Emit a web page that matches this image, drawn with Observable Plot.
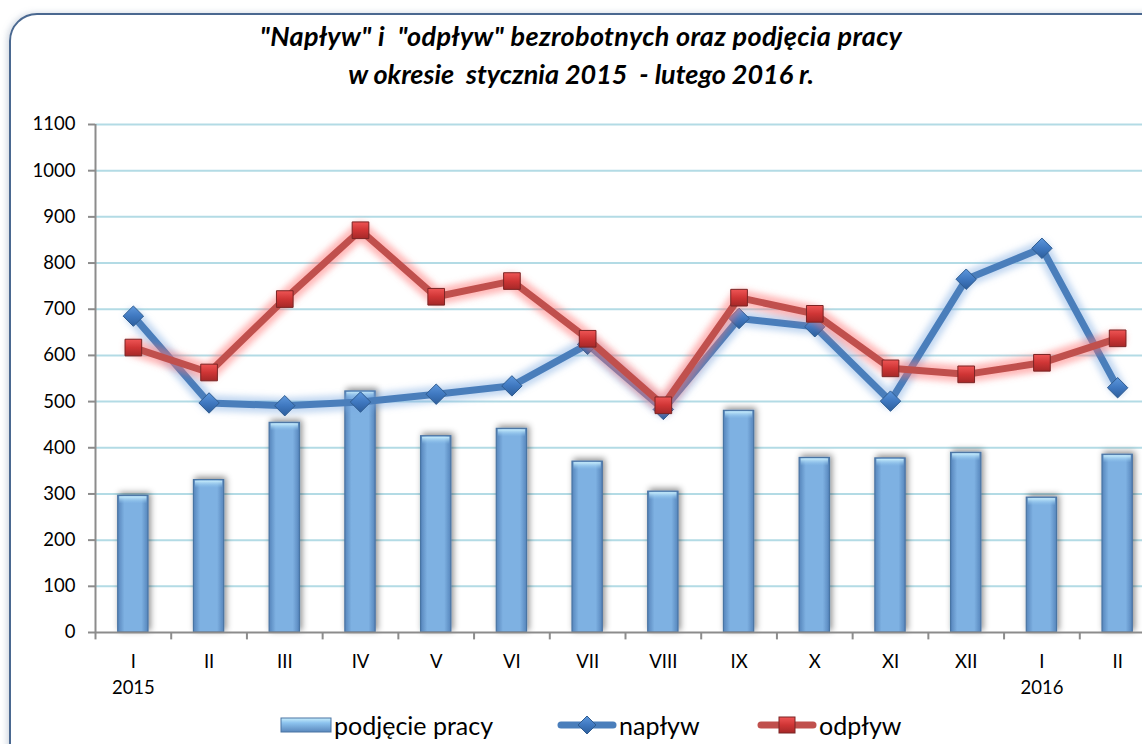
<!DOCTYPE html>
<html>
<head>
<meta charset="utf-8">
<script src="https://cdn.jsdelivr.net/npm/d3@7"></script>
<script src="https://cdn.jsdelivr.net/npm/@observablehq/plot@0.6"></script>
<style>
  html, body { margin: 0; padding: 0; background: #fff; overflow: hidden; }
  #page { position: relative; width: 1142px; height: 744px; overflow: hidden; font-family: Lato, "Open Sans", sans-serif; }
  #frame { position: absolute; left: 9px; top: 13px; width: 1240px; height: 760px; border: 2px solid #4a6890; border-radius: 28px; box-shadow: -2px 0 6px rgba(120,140,170,0.35); }
  #title { position: absolute; left: 0; width: 1162px; top: 17px; text-align: center; font-weight: bold; font-style: italic; font-size: 27px; line-height: 38px; color: #000; }
  #title .l1 { letter-spacing: 0.35px; }
  #chart { position: absolute; left: 0; top: 100px; }
  #legend { position: absolute; top: 707px; left: 0; width: 1142px; height: 36px; font-size: 25px; color: #000; }
  .li { position: absolute; top: 0; display: flex; align-items: center; height: 36px; }
  .li svg { display: block; }
</style>
</head>
<body>
<div id="page">
  <div id="frame"></div>
  <div id="title"><span class="l1">"Napływ" i &nbsp;"odpływ" bezrobotnych oraz podjęcia pracy</span><br>w okresie &nbsp;stycznia 2015 &nbsp;- lutego 2016 r.</div>
  <div id="chart"></div>
  <div id="legend"></div>
</div>
<script>
// ---- data ----
const months = ["I","II","III","IV","V","VI","VII","VIII","IX","X","XI","XII","I","II"];
const yearLabels = ["2015","","","","","","","","","","","","2016",""];
const podjeciePracy = [296, 330, 454, 522, 425, 441, 370, 305, 480, 378, 377, 389, 292, 385];
const naplyw = [685, 497, 491, 499, 516, 534, 624, 483, 680, 662, 501, 765, 832, 530];
const odplyw = [617, 563, 722, 871, 727, 761, 636, 492, 725, 690, 572, 559, 584, 637];
const yTicks = [0,100,200,300,400,500,600,700,800,900,1000,1100];
const seriesNames = ["podjęcie pracy", "napływ", "odpływ"];

const rows = months.map((m, i) => ({i, month: m, year: yearLabels[i], bar: podjeciePracy[i], nap: naplyw[i], odp: odplyw[i]}));
const idx = rows.map(d => d.i);

const W = 1142, H = 600;
const xRange = [95, 1155];
const step = (xRange[1] - xRange[0]) / months.length;

const blue = "#4a7ebb", red = "#c0504d";

const plot = Plot.plot({
  width: W, height: H,
  marginTop: 24, marginBottom: 68, marginLeft: 95, marginRight: 0,
  style: {fontFamily: "Lato, 'Open Sans', sans-serif", background: "transparent", overflow: "hidden"},
  x: {type: "band", domain: idx, range: xRange, paddingInner: 0.6, paddingOuter: 0.3, round: false, axis: null},
  y: {type: "linear", domain: [0, 1100], axis: null},
  marks: [
    Plot.ruleY(yTicks.filter(t => t > 0), {y: d => d, stroke: "#b3dbe5", strokeWidth: 2}),
    // y axis
    Plot.ruleX([idx[0]], {x: d => d, dx: -step * 0.5, y1: 0, y2: 1100, stroke: "#8c8c8c", strokeWidth: 2}),
    Plot.axisY(yTicks, {tickSize: 7, tickPadding: 13, fontSize: 18.5, stroke: "#8c8c8c", strokeWidth: 2, fill: "#000", tickFormat: d => String(d)}),
    // bars
    Plot.barY(rows, {x: "i", y: "bar", fill: "url(#barGrad)", stroke: "#4a74a3", strokeWidth: 1.2}),
    Plot.barY(rows, {x: "i", y1: d => d.bar - 18, y2: "bar", fill: "url(#barTop)", insetLeft: 1.5, insetRight: 1.5, insetTop: 1}),
    // x axis
    Plot.ruleY([0], {stroke: "#8c8c8c", strokeWidth: 2}),
    Plot.ruleX(rows, {x: "i", dx: -step / 2, y1: 0, y2: -16, stroke: "#8c8c8c", strokeWidth: 2}),
    // napływ
    Plot.line(rows, {x: "i", y: "nap", stroke: "#7aa8e0", strokeWidth: 16, strokeOpacity: 0.45}),
    Plot.line(rows, {x: "i", y: "nap", stroke: blue, strokeWidth: 7, strokeLinejoin: "round"}),
    Plot.dot(rows, {x: "i", y: "nap", symbol: "diamond2", r: 9.2, fill: "url(#diaGrad)", stroke: "#2f5c90", strokeWidth: 1}),
    // odpływ
    Plot.line(rows, {x: "i", y: "odp", stroke: "#ff7070", strokeWidth: 17, strokeOpacity: 0.5}),
    Plot.line(rows, {x: "i", y: "odp", stroke: red, strokeWidth: 7, strokeLinejoin: "round"}),
    Plot.dot(rows, {x: "i", y: "odp", symbol: "square", r: 9.4, fill: "url(#sqGrad)", stroke: "#7a2525", strokeWidth: 1}),
    // x labels
    Plot.text(rows, {x: "i", y: 0, text: "month", dy: 30, fontSize: 18.5, fill: "#000"}),
    Plot.text(rows, {x: "i", y: 0, text: "year", dy: 56, fontSize: 18.5, fill: "#000"})
  ]
});

// gradients / filters (styling only)
const svg = d3.select(plot);
const defs = svg.insert("defs", ":first-child");
const bg = defs.append("linearGradient").attr("id", "barGrad").attr("x1", 0).attr("x2", 1).attr("y1", 0).attr("y2", 0);
bg.append("stop").attr("offset", "0%").attr("stop-color", "#5685bb");
bg.append("stop").attr("offset", "22%").attr("stop-color", "#7eb1e2");
bg.append("stop").attr("offset", "78%").attr("stop-color", "#7eb1e2");
bg.append("stop").attr("offset", "100%").attr("stop-color", "#5685bb");
const bt = defs.append("linearGradient").attr("id", "barTop").attr("x1", 0).attr("x2", 0).attr("y1", 0).attr("y2", 1);
bt.append("stop").attr("offset", "0%").attr("stop-color", "#c9eefc");
bt.append("stop").attr("offset", "100%").attr("stop-color", "#8cc3ee").attr("stop-opacity", 0);
const dg = defs.append("linearGradient").attr("id", "diaGrad").attr("x1", 0).attr("x2", 0).attr("y1", 0).attr("y2", 1);
dg.append("stop").attr("offset", "0%").attr("stop-color", "#5d97dc");
dg.append("stop").attr("offset", "50%").attr("stop-color", "#3f78c0");
dg.append("stop").attr("offset", "100%").attr("stop-color", "#2d5e9c");
const sg = defs.append("linearGradient").attr("id", "sqGrad").attr("x1", 0).attr("x2", 0).attr("y1", 0).attr("y2", 1);
sg.append("stop").attr("offset", "0%").attr("stop-color", "#ee5555");
sg.append("stop").attr("offset", "50%").attr("stop-color", "#cf3535");
sg.append("stop").attr("offset", "100%").attr("stop-color", "#a52828");
const blur = defs.append("filter").attr("id", "glow").attr("x", "-10%").attr("y", "-30%").attr("width", "120%").attr("height", "160%");
blur.append("feGaussianBlur").attr("stdDeviation", 3);
const sh = defs.append("filter").attr("id", "shadow").attr("x", "-20%").attr("y", "-20%").attr("width", "150%").attr("height", "140%");
sh.append("feDropShadow").attr("dx", 2).attr("dy", -2).attr("stdDeviation", 3).attr("flood-color", "#000").attr("flood-opacity", 0.45);

const lineGroups = svg.selectAll('g[aria-label="line"]').nodes();
if (lineGroups[0]) d3.select(lineGroups[0]).attr("filter", "url(#glow)");
if (lineGroups[2]) d3.select(lineGroups[2]).attr("filter", "url(#glow)");
const barGroups = svg.selectAll('g[aria-label="bar"]').nodes();
if (barGroups[0]) d3.select(barGroups[0]).attr("filter", "url(#shadow)");

document.getElementById("chart").appendChild(plot);

// legend
const legend = document.getElementById("legend");
const items = [
  {name: seriesNames[0], left: 280, icon: `<svg width="52" height="20"><defs><linearGradient id="lgB" x1="0" x2="0" y1="0" y2="1"><stop offset="0" stop-color="#c9eefc"/><stop offset="0.35" stop-color="#8cc3ee"/><stop offset="1" stop-color="#5a88bd"/></linearGradient></defs><rect x="1" y="3" width="50" height="14" fill="url(#lgB)" stroke="#4a74a3"/></svg>`},
  {name: seriesNames[1], left: 557, icon: `<svg width="60" height="24"><line x1="4" y1="12" x2="56" y2="12" stroke="${blue}" stroke-width="7" stroke-linecap="round"/><path d="M30 3 L39 12 L30 21 L21 12 Z" fill="url(#diaGrad)" stroke="#2f5c90"/></svg>`},
  {name: seriesNames[2], left: 757, icon: `<svg width="60" height="24"><line x1="4" y1="12" x2="56" y2="12" stroke="${red}" stroke-width="7" stroke-linecap="round"/><rect x="22" y="4" width="16" height="16" fill="url(#sqGrad)" stroke="#7a2525"/></svg>`}
];
items.forEach(it => {
  const d = document.createElement("div");
  d.className = "li";
  d.style.left = it.left + "px";
  d.innerHTML = it.icon + `<span style="margin-left:2px">${it.name}</span>`;
  legend.appendChild(d);
});
</script>
</body>
</html>
